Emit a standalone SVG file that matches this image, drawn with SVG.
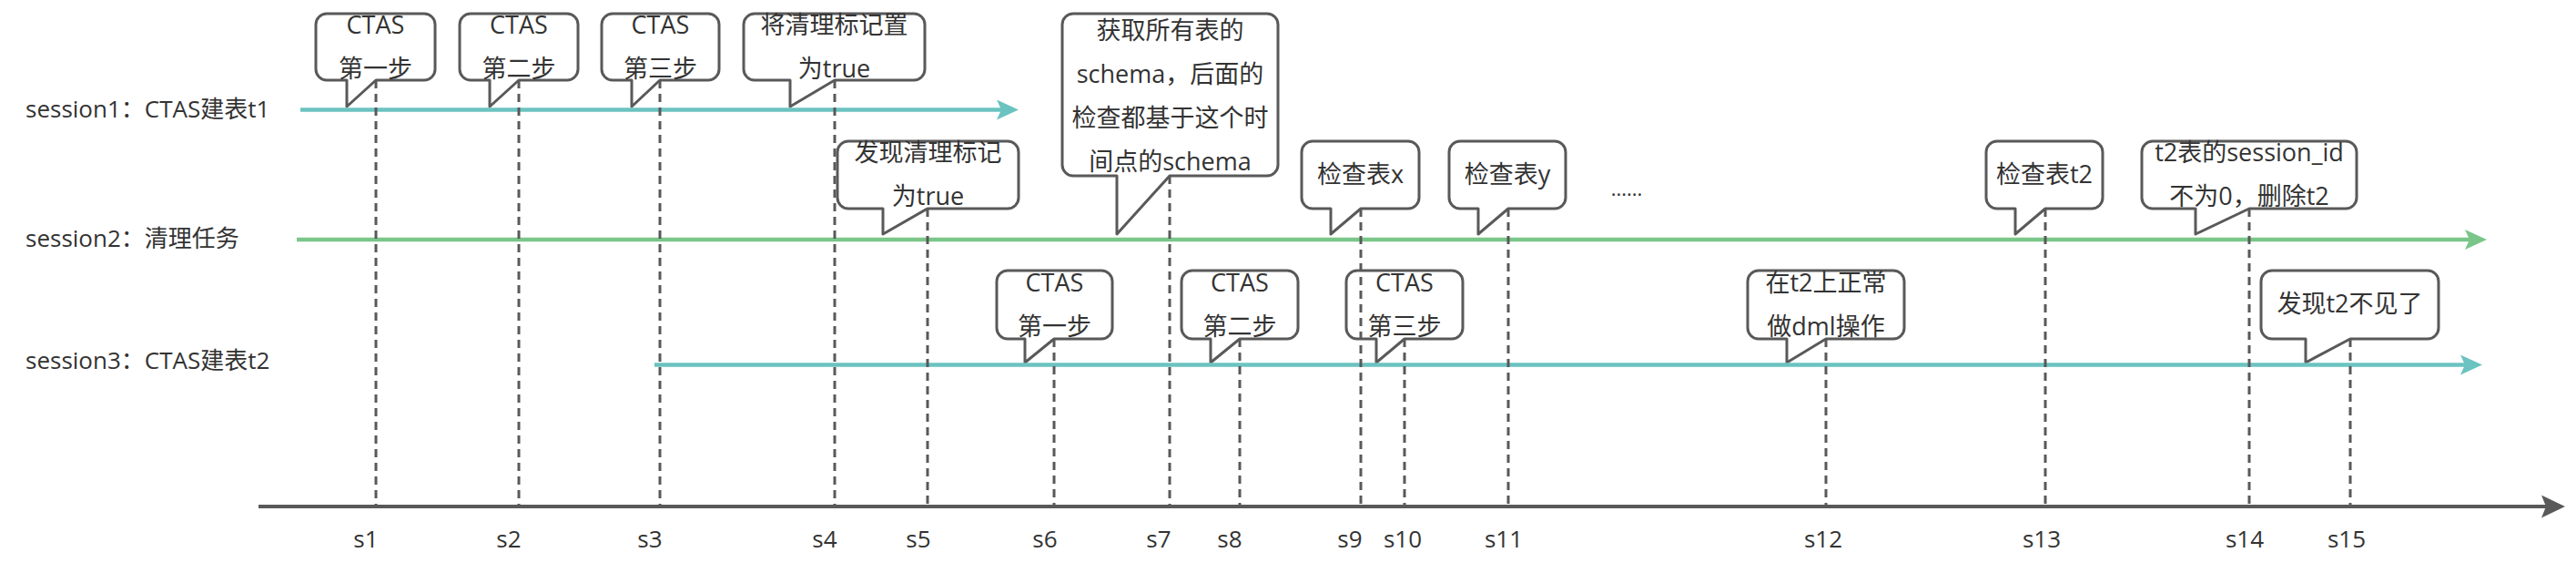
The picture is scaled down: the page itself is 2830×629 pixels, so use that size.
<svg xmlns="http://www.w3.org/2000/svg" width="2830" height="629" viewBox="0 0 2830 629">
<style>
.bg{fill:#ffffff}
.bubble{fill:#ffffff;stroke:#595959;stroke-width:3;stroke-linejoin:round}
.t{font-family:"Open Sans","Noto Sans CJK SC",sans-serif;font-size:27px;fill:#333333;text-anchor:middle}
.lbl{font-family:"Open Sans","Noto Sans CJK SC",sans-serif;font-size:26px;fill:#333333}
.sl{font-family:"Open Sans","Noto Sans CJK SC",sans-serif;font-size:26px;fill:#333333;text-anchor:middle}
.dash{stroke:#595959;stroke-width:3;stroke-dasharray:9 6;fill:none}
.s1{stroke:#6ac3c1;stroke-width:4.5;fill:none}
.s2{stroke:#7ac689;stroke-width:4.5;fill:none}
.ax{stroke:#595959;stroke-width:4;fill:none}
</style>
<defs>
<marker id="aTeal" markerUnits="userSpaceOnUse" markerWidth="24" markerHeight="22" refX="5" refY="11" orient="auto"><path d="M0,0 L24,11 L0,22 L5,11 Z" fill="#6ac3c1"/></marker>
<marker id="aGreen" markerUnits="userSpaceOnUse" markerWidth="24" markerHeight="22" refX="5" refY="11" orient="auto"><path d="M0,0 L24,11 L0,22 L5,11 Z" fill="#7ac689"/></marker>
<marker id="aGray" markerUnits="userSpaceOnUse" markerWidth="26" markerHeight="25" refX="5" refY="12.5" orient="auto"><path d="M0,0 L26,12.5 L0,25 L5,12.5 Z" fill="#595959"/></marker>
</defs>
<rect class="bg" x="0" y="0" width="2830" height="629"/>

<g id="labels">
<text class="lbl" x="28" y="129">session1：CTAS建表t1</text>
<text class="lbl" x="28" y="271">session2：清理任务</text>
<text class="lbl" x="28" y="405">session3：CTAS建表t2</text>
<text class="t" x="1787" y="215" style="font-size:22px">......</text>
</g>

<g id="b1"><path class="bubble" d="M359,15 H466 A12,12 0 0 1 478,27 V76 A12,12 0 0 1 466,88 H413 L381,117 V88 H359 A12,12 0 0 1 347,76 V27 A12,12 0 0 1 359,15 Z"/><text class="t" x="412.5" y="37">CTAS</text><text class="t" x="412.5" y="85">第一步</text></g>
<g id="b2"><path class="bubble" d="M517,15 H623 A12,12 0 0 1 635,27 V76 A12,12 0 0 1 623,88 H570 L538,117 V88 H517 A12,12 0 0 1 505,76 V27 A12,12 0 0 1 517,15 Z"/><text class="t" x="570" y="37">CTAS</text><text class="t" x="570" y="85">第二步</text></g>
<g id="b3"><path class="bubble" d="M673,15 H778 A12,12 0 0 1 790,27 V76 A12,12 0 0 1 778,88 H725 L694,117 V88 H673 A12,12 0 0 1 661,76 V27 A12,12 0 0 1 673,15 Z"/><text class="t" x="725.5" y="37">CTAS</text><text class="t" x="725.5" y="85">第三步</text></g>
<g id="b4"><path class="bubble" d="M829,15 H1004 A12,12 0 0 1 1016,27 V76 A12,12 0 0 1 1004,88 H917 L868,117 V88 H829 A12,12 0 0 1 817,76 V27 A12,12 0 0 1 829,15 Z"/><text class="t" x="916.5" y="37">将清理标记置</text><text class="t" x="916.5" y="85">为true</text></g>

<g id="b5"><path class="bubble" d="M932,155 H1107 A12,12 0 0 1 1119,167 V217 A12,12 0 0 1 1107,229 H1019 L970,257 V229 H932 A12,12 0 0 1 920,217 V167 A12,12 0 0 1 932,155 Z"/><text class="t" x="1019.5" y="177">发现清理标记</text><text class="t" x="1019.5" y="225">为true</text></g>
<g id="b7"><path class="bubble" d="M1179,15 H1392 A12,12 0 0 1 1404,27 V181 A12,12 0 0 1 1392,193 H1285 L1227,257 V193 H1179 A12,12 0 0 1 1167,181 V27 A12,12 0 0 1 1179,15 Z"/><text class="t" x="1285.5" y="43">获取所有表的</text><text class="t" x="1285.5" y="91">schema，后面的</text><text class="t" x="1285.5" y="139">检查都基于这个时</text><text class="t" x="1285.5" y="187">间点的schema</text></g>
<g id="b9"><path class="bubble" d="M1442,155 H1547 A12,12 0 0 1 1559,167 V217 A12,12 0 0 1 1547,229 H1495 L1462,257 V229 H1442 A12,12 0 0 1 1430,217 V167 A12,12 0 0 1 1442,155 Z"/><text class="t" x="1494.5" y="201">检查表x</text></g>
<g id="b11"><path class="bubble" d="M1604,155 H1708 A12,12 0 0 1 1720,167 V217 A12,12 0 0 1 1708,229 H1657 L1624,257 V229 H1604 A12,12 0 0 1 1592,217 V167 A12,12 0 0 1 1604,155 Z"/><text class="t" x="1656" y="201">检查表y</text></g>
<g id="b13"><path class="bubble" d="M2194,155 H2298 A12,12 0 0 1 2310,167 V217 A12,12 0 0 1 2298,229 H2247 L2214,257 V229 H2194 A12,12 0 0 1 2182,217 V167 A12,12 0 0 1 2194,155 Z"/><text class="t" x="2246" y="201">检查表t2</text></g>
<g id="b14"><path class="bubble" d="M2365,155 H2577 A12,12 0 0 1 2589,167 V217 A12,12 0 0 1 2577,229 H2471 L2412,257 V229 H2365 A12,12 0 0 1 2353,217 V167 A12,12 0 0 1 2365,155 Z"/><text class="t" x="2471" y="177">t2表的session_id</text><text class="t" x="2471" y="225">不为0，删除t2</text></g>

<g id="b6"><path class="bubble" d="M1107,297 H1210 A12,12 0 0 1 1222,309 V360 A12,12 0 0 1 1210,372 H1158 L1126,398 V372 H1107 A12,12 0 0 1 1095,360 V309 A12,12 0 0 1 1107,297 Z"/><text class="t" x="1158.5" y="320">CTAS</text><text class="t" x="1158.5" y="368">第一步</text></g>
<g id="b8"><path class="bubble" d="M1310,297 H1414 A12,12 0 0 1 1426,309 V360 A12,12 0 0 1 1414,372 H1362 L1330,398 V372 H1310 A12,12 0 0 1 1298,360 V309 A12,12 0 0 1 1310,297 Z"/><text class="t" x="1362" y="320">CTAS</text><text class="t" x="1362" y="368">第二步</text></g>
<g id="b10"><path class="bubble" d="M1491,297 H1595 A12,12 0 0 1 1607,309 V360 A12,12 0 0 1 1595,372 H1543 L1512,398 V372 H1491 A12,12 0 0 1 1479,360 V309 A12,12 0 0 1 1491,297 Z"/><text class="t" x="1543" y="320">CTAS</text><text class="t" x="1543" y="368">第三步</text></g>
<g id="b12"><path class="bubble" d="M1932,297 H2080 A12,12 0 0 1 2092,309 V360 A12,12 0 0 1 2080,372 H2006 L1963,398 V372 H1932 A12,12 0 0 1 1920,360 V309 A12,12 0 0 1 1932,297 Z"/><text class="t" x="2006" y="320">在t2上正常</text><text class="t" x="2006" y="368">做dml操作</text></g>
<g id="b15"><path class="bubble" d="M2496,297 H2667 A12,12 0 0 1 2679,309 V360 A12,12 0 0 1 2667,372 H2582 L2533,398 V372 H2496 A12,12 0 0 1 2484,360 V309 A12,12 0 0 1 2496,297 Z"/><text class="t" x="2581.5" y="343">发现t2不见了</text></g>

<g id="connectors">
<line class="s1" x1="330" y1="120.5" x2="1100" y2="120.5" marker-end="url(#aTeal)"/>
<line class="s2" x1="326" y1="263" x2="2713" y2="263" marker-end="url(#aGreen)"/>
<line class="s1" x1="719" y1="400.5" x2="2708" y2="400.5" marker-end="url(#aTeal)"/>
<line class="ax" x1="284" y1="556" x2="2797" y2="556" marker-end="url(#aGray)"/>
<line class="dash" x1="413" y1="88" x2="413" y2="555"/>
<line class="dash" x1="570" y1="88" x2="570" y2="555"/>
<line class="dash" x1="725" y1="88" x2="725" y2="555"/>
<line class="dash" x1="917" y1="88" x2="917" y2="555"/>
<line class="dash" x1="1019" y1="229" x2="1019" y2="555"/>
<line class="dash" x1="1158" y1="372" x2="1158" y2="555"/>
<line class="dash" x1="1285" y1="193" x2="1285" y2="555"/>
<line class="dash" x1="1362" y1="372" x2="1362" y2="555"/>
<line class="dash" x1="1495" y1="229" x2="1495" y2="555"/>
<line class="dash" x1="1543" y1="372" x2="1543" y2="555"/>
<line class="dash" x1="1657" y1="229" x2="1657" y2="555"/>
<line class="dash" x1="2006" y1="372" x2="2006" y2="555"/>
<line class="dash" x1="2247" y1="229" x2="2247" y2="555"/>
<line class="dash" x1="2471" y1="229" x2="2471" y2="555"/>
<line class="dash" x1="2582" y1="372" x2="2582" y2="555"/>
</g>

<g id="ticks">
<text class="sl" x="402" y="601">s1</text>
<text class="sl" x="559" y="601">s2</text>
<text class="sl" x="714" y="601">s3</text>
<text class="sl" x="906" y="601">s4</text>
<text class="sl" x="1009" y="601">s5</text>
<text class="sl" x="1148" y="601">s6</text>
<text class="sl" x="1273" y="601">s7</text>
<text class="sl" x="1351" y="601">s8</text>
<text class="sl" x="1483" y="601">s9</text>
<text class="sl" x="1541" y="601">s10</text>
<text class="sl" x="1652" y="601">s11</text>
<text class="sl" x="2003" y="601">s12</text>
<text class="sl" x="2243" y="601">s13</text>
<text class="sl" x="2466" y="601">s14</text>
<text class="sl" x="2578" y="601">s15</text>
</g>
</svg>
